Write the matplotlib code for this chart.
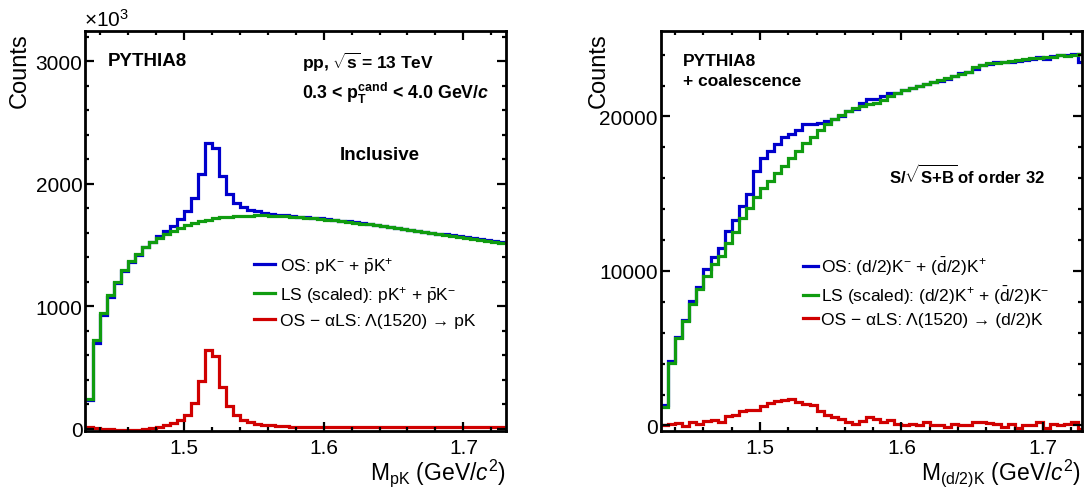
import numpy as np
import matplotlib
matplotlib.use('Agg')
import matplotlib.pyplot as plt

plt.rcParams['font.family'] = ['Liberation Sans', 'DejaVu Sans']
plt.rcParams['mathtext.fontset'] = 'custom'
plt.rcParams['mathtext.rm'] = 'Liberation Sans'
plt.rcParams['mathtext.it'] = 'Liberation Sans:italic'
plt.rcParams['mathtext.bf'] = 'Liberation Sans:bold'
plt.rcParams['mathtext.bfit'] = 'Liberation Sans:italic:bold'

# binning: 60 bins of 5 MeV from 1.43 to 1.73 GeV/c^2
bin_lo, bin_hi, n_bins = 1.43, 1.73, 60
edges = np.linspace(bin_lo, bin_hi, n_bins + 1)

# ---- left panel: inclusive PYTHIA8 (counts in units of 10^3)
os_incl = [230, 700, 930, 1075, 1190, 1285, 1357, 1420, 1478, 1525,
           1570, 1613, 1657, 1708, 1774, 1883, 2079, 2330, 2290, 2063,
           1914, 1844, 1805, 1785, 1772, 1762, 1753, 1746, 1740, 1735,
           1730, 1725, 1720, 1715, 1709, 1703, 1697, 1691, 1684, 1677,
           1670, 1663, 1655, 1648, 1640, 1632, 1624, 1616, 1608, 1600,
           1592, 1584, 1576, 1568, 1560, 1552, 1544, 1536, 1528, 1520]
ls_incl = [245, 720, 945, 1090, 1200, 1295, 1365, 1425, 1480, 1520,
           1555, 1588, 1615, 1640, 1660, 1678, 1693, 1705, 1715, 1723,
           1729, 1734, 1737, 1739, 1740, 1740, 1739, 1737, 1734, 1730,
           1726, 1721, 1716, 1711, 1705, 1699, 1693, 1687, 1680, 1673,
           1666, 1659, 1651, 1644, 1636, 1628, 1620, 1612, 1604, 1596,
           1588, 1580, 1572, 1564, 1556, 1548, 1540, 1532, 1524, 1516]
sig_incl = [15, 5, 0, -5, -8, -10, -10, -8, -3, 5,
            15, 25, 42, 68, 114, 205, 386, 638, 590, 340,
            185, 110, 70, 50, 38, 30, 25, 21, 18, 16,
            15, 14, 13, 13, 12, 12, 12, 12, 12, 12,
            12, 12, 12, 12, 13, 13, 13, 13, 14, 14,
            14, 14, 15, 15, 15, 15, 16, 16, 16, 16]

# ---- right panel: PYTHIA8 + coalescence
os_coal = [1300, 4150, 5750, 6850, 8050, 8950, 10130, 10890, 11500, 12600,
           13300, 14200, 15000, 16500, 17300, 17750, 18200, 18700, 18850, 19150,
           19480, 19540, 19600, 19720, 19860, 20030, 20350, 20500, 20900, 21100,
           21100, 21300, 21500, 21550, 21720, 21850, 22000, 22100, 22200, 22300,
           22450, 22600, 22800, 22850, 23100, 23300, 23400, 23500, 23500, 23550,
           23600, 23650, 23700, 23850, 23750, 23900, 23950, 24000, 24050, 23550]
ls_coal = [1220, 4070, 5640, 6780, 7860, 8810, 9700, 10450, 11000, 11800,
           12500, 13400, 14100, 14800, 15400, 15800, 16350, 16800, 17300, 17750,
           18300, 18700, 19100, 19500, 19850, 20100, 20380, 20550, 20700, 20800,
           20880, 21050, 21300, 21500, 21720, 21850, 22000, 22100, 22250, 22370,
           22500, 22600, 22750, 22900, 23200, 23350, 23440, 23480, 23550, 23600,
           23650, 23700, 23760, 23800, 23830, 23870, 23950, 23900, 23980, 24050]
sig_coal = [0, 110, 150, -20, 215, 100, 320, 370, 200, 640,
            660, 970, 1010, 980, 1290, 1440, 1610, 1660, 1730, 1510,
            1400, 1300, 960, 650, 540, 430, 220, 110, 320, 540,
            430, 220, 330, 110, 0, 100, 0, 220, 10, 0,
            -100, 110, 60, 0, 230, 210, 130, 110, -100, 100,
            -150, 0, 0, 220, -150, 120, 20, 110, 230, -250]

c_os, c_ls, c_sig = '#0000cc', '#109c10', '#d00000'

fig = plt.figure(figsize=(10.86, 4.89), dpi=100)
W, H = 1086., 489.
ax0 = fig.add_axes([84.7/W, 1-432/H, (506-84.7)/W, 400/H])
ax1 = fig.add_axes([661/W, 1-432/H, (1082-661)/W, 400/H])

def style(ax, ypad):
    for s in ax.spines.values():
        s.set_linewidth(2.0)
    ax.tick_params(which='both', direction='in', top=True, right=True,
                   width=1.6, labelsize=15)
    ax.tick_params(which='major', length=6.5)
    ax.tick_params(which='minor', length=3.2)
    ax.tick_params(axis='x', pad=5)
    ax.tick_params(axis='y', pad=ypad)
    ax.set_xticks([1.5, 1.6, 1.7])
    ax.set_xticks(np.arange(1.44, 1.73, 0.02), minor=True)

lw = 2.3

# left
ax0.stairs(os_incl, edges, baseline=None, color=c_os, lw=lw,
           label=r'OS: pK$^{-}$ + $\bar{\rm p}$K$^{+}$')
ax0.stairs(ls_incl, edges, baseline=None, color=c_ls, lw=lw,
           label=r'LS (scaled): pK$^{+}$ + $\bar{\rm p}$K$^{-}$')
ax0.stairs(sig_incl, edges, baseline=None, color=c_sig, lw=lw,
           label='OS \u2212 \u03b1LS: \u039b(1520) \u2192 pK')
ax0.set_xlim(1.429, 1.7305)
ax0.set_ylim(-20, 3245)
style(ax0, 1.5)
ax0.set_yticks([0, 1000, 2000, 3000])
ax0.set_yticks(np.arange(200, 3245, 200), minor=True)
ax0.legend(loc='upper left', bbox_to_anchor=(0.402, 0.44), frameon=False,
           fontsize=12.5, handlelength=1.2, handletextpad=0.3,
           borderpad=0, borderaxespad=0, labelspacing=0.45)
ax0.text(0.055, 0.925, 'PYTHIA8', transform=ax0.transAxes, fontsize=13.5,
         fontweight='bold', va='center')
ax0.text(0.516, 0.925, r'pp, $\sqrt{\mathbf{s}}\!$ = 13 TeV', transform=ax0.transAxes,
         fontsize=12.5, fontweight='bold', va='center')
ax0.text(0.516, 0.8475, r'0.3 < $\mathbf{p}_{\mathbf{T}}^{\mathbf{cand}}$ < 4.0 GeV/$\mathbfit{c}$',
         transform=ax0.transAxes, fontsize=12.8, fontweight='bold', va='center')
ax0.text(0.606, 0.69, 'Inclusive', transform=ax0.transAxes, fontsize=13.5,
         fontweight='bold', va='center')

# right
ax1.stairs(os_coal, edges, baseline=None, color=c_os, lw=lw,
           label=r'OS: (d/2)K$^{-}$ + ($\bar{\rm d}$/2)K$^{+}$')
ax1.stairs(ls_coal, edges, baseline=None, color=c_ls, lw=lw,
           label=r'LS (scaled): (d/2)K$^{+}$ + ($\bar{\rm d}$/2)K$^{-}$')
ax1.stairs(sig_coal, edges, baseline=None, color=c_sig, lw=lw,
           label='OS \u2212 \u03b1LS: \u039b(1520) \u2192 (d/2)K')
ax1.set_xlim(1.43, 1.7276)
ax1.set_ylim(-356, 25530)
style(ax1, 2.5)
ax1.set_yticks([0, 10000, 20000])
ax1.set_yticks(np.arange(2000, 25530, 2000), minor=True)
ax1.legend(loc='upper left', bbox_to_anchor=(0.337, 0.44), frameon=False,
           fontsize=12.5, handlelength=0.85, handletextpad=0.2,
           borderpad=0, borderaxespad=0, labelspacing=0.35)
ax1.text(0.052, 0.925, 'PYTHIA8', transform=ax1.transAxes, fontsize=12.5,
         fontweight='bold', va='center')
ax1.text(0.052, 0.875, '+ coalescence', transform=ax1.transAxes, fontsize=12.5,
         fontweight='bold', va='center')
ax1.text(0.5416, 0.6425, r'S/$\sqrt{\mathbf{S{+}B}}\!$ of order 32', transform=ax1.transAxes,
         fontsize=12, fontweight='bold', va='center')

# axis titles, ROOT style
fig.text(84/W, 1-31/H, r'$\times$10$^{3}$', fontsize=15, ha='left', va='bottom')
fig.text(20/W, 1-33/H, 'Counts', fontsize=17, rotation=90, ha='center', va='top')
fig.text(599/W, 1-33/H, 'Counts', fontsize=17, rotation=90, ha='center', va='top')
fig.text(506/W, 1-480/H, r'M$_{\rm pK}$ (GeV/$c^{2}$)', fontsize=16.5,
         ha='right', va='baseline')
fig.text(1081/W, 1-480/H, r'M$_{\rm (d/2)K}$ (GeV/$c^{2}$)', fontsize=16.5,
         ha='right', va='baseline')

fig.savefig('out.png', dpi=100)
